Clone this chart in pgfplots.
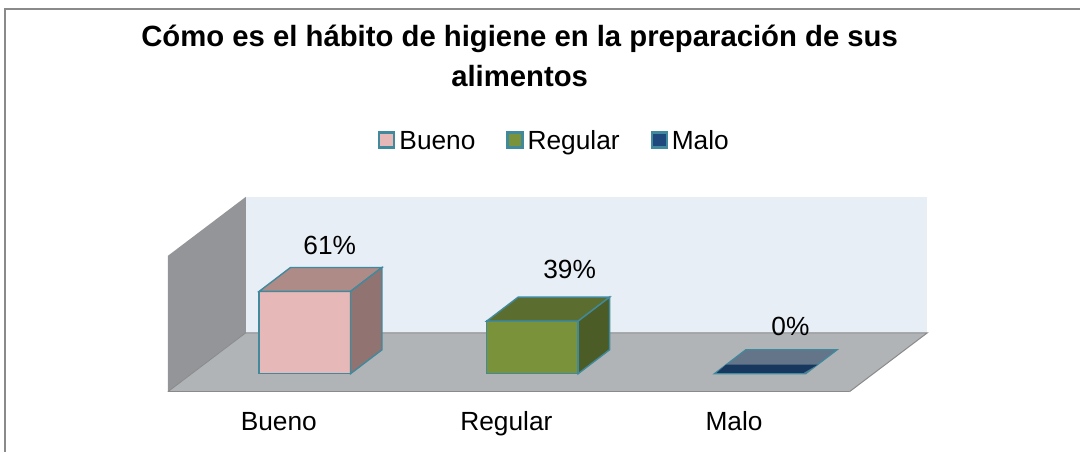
\documentclass[border=0pt]{standalone}
\usepackage{pgfplots}
\usepackage{fontspec}
\setmainfont{Liberation Sans}
\pgfplotsset{compat=1.18}
\definecolor{wallback}{HTML}{E7EEF5}
\definecolor{wallside}{HTML}{939598}
\definecolor{floorc}{HTML}{B0B4B7}
\definecolor{edgec}{HTML}{8A8A8A}
\definecolor{barline}{HTML}{41899D}
\definecolor{pinkf}{HTML}{E6B8B7}
\definecolor{pinkt}{HTML}{AE8B87}
\definecolor{pinks}{HTML}{917472}
\definecolor{greenf}{HTML}{7A933B}
\definecolor{greent}{HTML}{5B6E2F}
\definecolor{greens}{HTML}{4C5C27}
\definecolor{navyf}{HTML}{1F497D}
\definecolor{navyd}{HTML}{17375E}
\definecolor{navyt}{HTML}{647589}
\begin{document}
\begin{tikzpicture}
\begin{axis}[
    scale only axis, width=1081pt, height=452pt,
    xmin=-1.3392, xmax=3.4072, ymin=-57.78, ymax=277.04,
    axis line style={draw=none}, tick style={draw=none},
    ytick=\empty,
    xtick={0,1,2}, xticklabels={Bueno,Regular,Malo},
    x tick label style={font=\fontsize{26.3}{30}\selectfont, anchor=base, xshift=-26pt, yshift=21pt},
    title={Cómo es el hábito de higiene en la preparación de sus\\alimentos},
    title style={font=\bfseries\fontsize{29.3}{40}\selectfont, align=center, at={(axis description cs:0.481,0.863)}, anchor=center},
    clip=false,
    legend columns=3,
    legend style={at={(axis description cs:0.35,0.69)}, anchor=west, draw=none, fill=none,
        font=\fontsize{26.3}{30}\selectfont, inner sep=0pt,
        /tikz/every odd column/.append style={column sep=4pt},
        /tikz/every even column/.append style={column sep=31pt},
        nodes={inner sep=0pt, anchor=west, text depth=0pt}},
    legend image code/.code={\draw[#1,line width=2.2pt] (1pt,-7.5pt) rectangle (16pt,7.5pt);},
]
\addlegendimage{draw=barline, fill=pinkf}
\addlegendentry{Bueno}
\addlegendimage{draw=barline, fill=greenf}
\addlegendentry{Regular}
\addlegendimage{draw=barline, fill=navyf}
\addlegendentry{Malo}
% frame
\addplot[forget plot, edgec, line width=1.5pt] coordinates {(-1.3172,-57.78) (-1.3172,270.4) (3.4072,270.4)};
% walls and floor
\addplot[forget plot, fill=wallback, draw=none] coordinates {(-0.2591,30.37) (-0.2591,131.11) (2.7355,131.11) (2.7355,30.37)} -- cycle;
\addplot[forget plot, fill=wallside, draw=none] coordinates {(-0.6015,-13.33) (-0.6015,87.41) (-0.2591,131.11) (-0.2591,30.37)} -- cycle;
\addplot[forget plot, fill=floorc, draw=none] coordinates {(-0.6015,-13.33) (-0.2591,30.37) (2.7355,30.37) (2.3930,-13.33)} -- cycle;
\addplot[forget plot, edgec, line width=1pt] coordinates {(-0.2591,30.37) (2.7355,30.37) (2.3930,-13.33)};
\addplot[forget plot, edgec, line width=1.5pt] coordinates {(-0.6015,-13.33) (2.3930,-13.33)};
\addplot[forget plot, edgec, line width=0.8pt] coordinates {(-0.6015,-13.33) (-0.2591,30.37)};
% bars: front faces
\addplot[forget plot, ybar, bar width=91.5pt, bar shift=0pt, draw=barline, fill=pinkf, line width=1.4pt] coordinates {(0,61)};
\addplot[forget plot, ybar, bar width=91.5pt, bar shift=0pt, draw=barline, fill=greenf, line width=1.4pt] coordinates {(1,39)};
% tops and sides
\addplot[forget plot, fill=pinkt, draw=barline, line width=1.4pt] coordinates {(-0.2009,61) (0.2009,61) (0.3392,78.78) (-0.0626,78.78)} -- cycle;
\addplot[forget plot, fill=pinks, draw=barline, line width=1.4pt] coordinates {(0.2009,0) (0.3392,17.78) (0.3392,78.78) (0.2009,61)} -- cycle;
\addplot[forget plot, fill=greent, draw=barline, line width=1.4pt] coordinates {(0.7991,39) (1.2009,39) (1.3392,56.78) (0.9374,56.78)} -- cycle;
\addplot[forget plot, fill=greens, draw=barline, line width=1.4pt] coordinates {(1.2009,0) (1.3392,17.78) (1.3392,56.78) (1.2009,39)} -- cycle;
% Malo is flat, 0 percent
\addplot[forget plot, fill=navyt, draw=barline, line width=1.2pt] coordinates {(1.7991,0) (2.2009,0) (2.3392,17.78) (1.9374,17.78)} -- cycle;
\addplot[forget plot, fill=navyd, draw=none] coordinates {(1.8091,0.6) (2.1909,0.6) (2.2527,6.67) (1.851,6.67)} -- cycle;
% value labels
\addplot[forget plot, draw=none, mark=none, nodes near coords, point meta=explicit symbolic,
    every node near coord/.style={anchor=center, font=\fontsize{26.3}{30}\selectfont}]
    coordinates {(0.1098,95.2)[61\%] (1.1636,77.4)[39\%] (2.1339,35.2)[0\%]};
\end{axis}
\end{tikzpicture}
\end{document}
